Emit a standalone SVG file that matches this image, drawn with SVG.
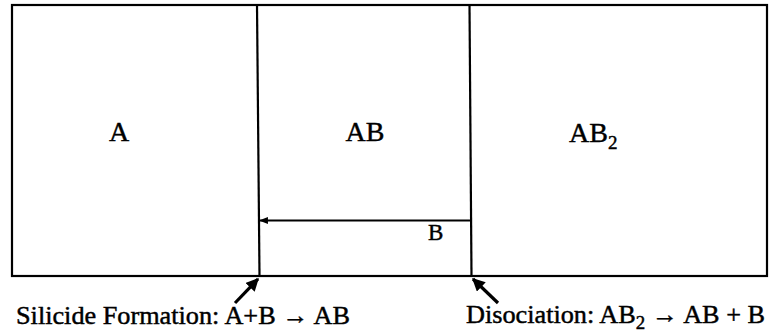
<svg xmlns="http://www.w3.org/2000/svg" width="773" height="336" viewBox="0 0 773 336">
<style>
.ln{stroke:#000;stroke-width:2.2;fill:none}
.t{font-family:"Liberation Serif","Times New Roman",serif;fill:#000;stroke:#000;stroke-width:0.45}
.big{font-size:28px}
.cap{font-size:25px}
</style>
<defs>
<marker id="ah" viewBox="0 0 10 10" refX="9" refY="5" markerWidth="6.5" markerHeight="4" orient="auto" markerUnits="strokeWidth">
<path d="M0,1 L10,5 L0,9 Z" fill="#000"/>
</marker>
<marker id="ah2" viewBox="0 0 10 10" refX="9" refY="5" markerWidth="4" markerHeight="4" orient="auto" markerUnits="strokeWidth">
<path d="M0,0 L10,5 L0,10 Z" fill="#000"/>
</marker>
</defs>
<g id="frame">
<rect class="ln" x="12" y="5" width="755" height="271"/>
</g>
<g id="A">
<text class="t big" x="119" y="141" text-anchor="middle">A</text>
</g>
<g id="AB">
<line class="ln" x1="257" y1="5" x2="259.5" y2="276"/>
<text class="t big" x="365" y="141" text-anchor="middle">AB</text>
</g>
<g id="AB2">
<line class="ln" x1="469.5" y1="5" x2="471.5" y2="276"/>
<text class="t big" x="569" y="142">AB<tspan font-size="19" dy="7">2</tspan></text>
</g>
<g id="connectors">
<line class="ln" x1="471" y1="220.5" x2="260" y2="220.5" marker-end="url(#ah)"/>
<line x1="235" y1="303" x2="258" y2="279" stroke="#000" stroke-width="3.2" marker-end="url(#ah2)"/>
<line x1="498" y1="303" x2="473" y2="279" stroke="#000" stroke-width="3.2" marker-end="url(#ah2)"/>
</g>
<g id="labels">
<text class="t" font-size="23" x="428" y="240">B</text>
<text class="t cap" x="16" y="324" textLength="334" lengthAdjust="spacingAndGlyphs">Silicide Formation: A+B → AB</text>
<text class="t cap" x="466" y="323" textLength="299" lengthAdjust="spacingAndGlyphs">Disociation: AB<tspan font-size="18" dy="6">2</tspan><tspan dy="-6"> → AB + B</tspan></text>
</g>
</svg>
